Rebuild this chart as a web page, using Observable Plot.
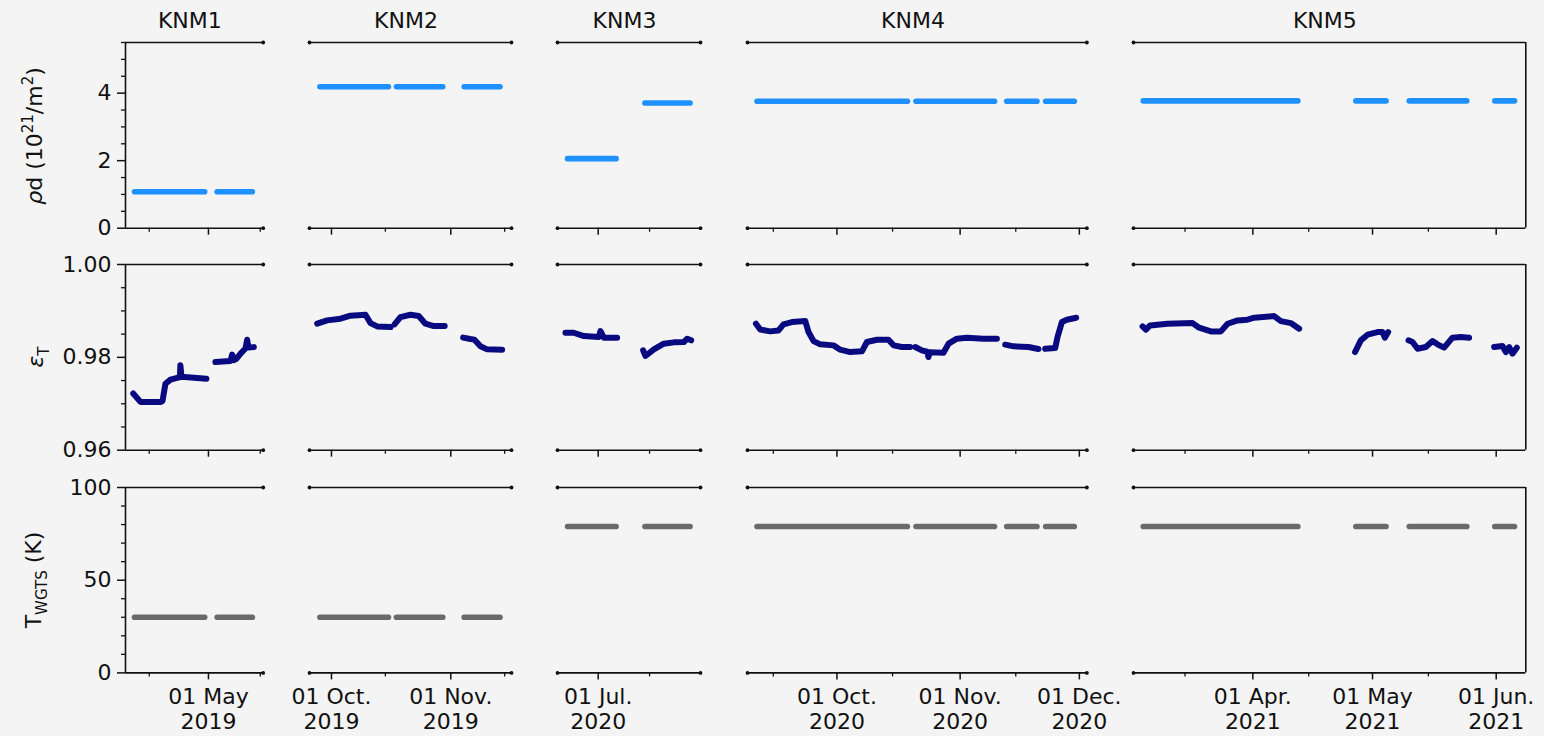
<!DOCTYPE html>
<html>
<head>
<meta charset="utf-8">
<script src="https://cdn.jsdelivr.net/npm/d3@7"></script>
<script src="https://cdn.jsdelivr.net/npm/@observablehq/plot@0.6"></script>
<style>
  html, body { margin: 0; padding: 0; background: #f4f4f4; }
  #figure { position: relative; width: 1544px; height: 736px; overflow: hidden;
            font-family: "DejaVu Sans", sans-serif; color: #111; }
  #figure svg { position: absolute; }
  .title { position: absolute; font-size: 22px; transform: translate(-50%, -50%); white-space: nowrap; }
  .ylabel { position: absolute; font-size: 22px; transform: translate(-50%, -50%) rotate(-90deg); white-space: nowrap; }
  .ylabel sup, .ylabel sub { font-size: 15px; }
</style>
</head>
<body>
<div id="figure"></div>
<script>
const parseTime = d3.utcParse("%Y-%m-%d %H:%M");
const parseDay = d3.utcParse("%Y-%m-%d");

// Measurement campaigns, one column each
const campaigns = ["KNM1", "KNM2", "KNM3", "KNM4", "KNM5"];

// Time window shown for each campaign (broken x axis)
const timeWindows = [
  ["2019-04-08 14:00", "2019-05-15 19:00"],
  ["2019-09-25 07:00", "2019-11-16 18:30"],
  ["2020-06-19 22:00", "2020-07-28 21:00"],
  ["2020-09-08 12:00", "2020-12-02 21:30"],
  ["2021-03-02 02:00", "2021-06-08 10:00"]
];

// Date ticks per campaign
const majorTicks = [
  ["2019-05-01"],
  ["2019-10-01", "2019-11-01"],
  ["2020-07-01"],
  ["2020-10-01", "2020-11-01", "2020-12-01"],
  ["2021-04-01", "2021-05-01", "2021-06-01"]
];
const majorTickLabels = [
  ["01 May\n2019"],
  ["01 Oct.\n2019", "01 Nov.\n2019"],
  ["01 Jul.\n2020"],
  ["01 Oct.\n2020", "01 Nov.\n2020", "01 Dec.\n2020"],
  ["01 Apr.\n2021", "01 May\n2021", "01 Jun.\n2021"]
];
const minorTicks = [
  ["2019-04-15", "2019-05-15"],
  ["2019-10-15", "2019-11-15"],
  ["2020-07-15"],
  ["2020-09-15", "2020-10-15", "2020-11-15"],
  ["2021-03-15", "2021-04-15", "2021-05-15"]
];

// Value ticks per row
const densityTicks = [0, 2, 4];
const densityMinorTicks = [0.5, 1, 1.5, 2.5, 3, 3.5, 4.5, 5, 5.5];
const purityTicks = [0.96, 0.98, 1.00];
const purityMinorTicks = [0.965, 0.97, 0.975, 0.985, 0.99, 0.995];
const temperatureTicks = [0, 50, 100];
const temperatureMinorTicks = [10, 20, 30, 40, 60, 70, 80, 90];

// Column density rho*d (1e21 / m^2): [campaign, start, end, value]
const densityRuns = [
  ["KNM1", "2019-04-11 00:30", "2019-04-29 23:30", 1.08],
  ["KNM1", "2019-05-03 08:30", "2019-05-12 20:30", 1.08],
  ["KNM2", "2019-09-28 00:00", "2019-10-15 19:00", 4.19],
  ["KNM2", "2019-10-17 21:00", "2019-10-29 22:00", 4.19],
  ["KNM2", "2019-11-04 11:30", "2019-11-13 19:00", 4.19],
  ["KNM3", "2020-06-22 16:00", "2020-07-05 21:00", 2.06],
  ["KNM3", "2020-07-13 17:45", "2020-07-26 01:00", 3.71],
  ["KNM4", "2020-09-10 21:30", "2020-10-18 17:30", 3.76],
  ["KNM4", "2020-10-20 21:30", "2020-11-09 15:30", 3.76],
  ["KNM4", "2020-11-12 17:30", "2020-11-20 08:00", 3.76],
  ["KNM4", "2020-11-22 12:30", "2020-11-29 17:30", 3.76],
  ["KNM5", "2021-03-04 12:30", "2021-04-12 06:30", 3.77],
  ["KNM5", "2021-04-26 19:30", "2021-05-04 09:00", 3.77],
  ["KNM5", "2021-05-10 05:00", "2021-05-24 15:00", 3.77],
  ["KNM5", "2021-05-31 15:30", "2021-06-05 14:00", 3.77]
];

// Source temperature T_WGTS (K): [campaign, start, end, value]
const temperatureRuns = [
  ["KNM1", "2019-04-11 00:30", "2019-04-29 23:30", 30],
  ["KNM1", "2019-05-03 08:30", "2019-05-12 20:30", 30],
  ["KNM2", "2019-09-28 00:00", "2019-10-15 19:00", 30],
  ["KNM2", "2019-10-17 21:00", "2019-10-29 22:00", 30],
  ["KNM2", "2019-11-04 11:30", "2019-11-13 19:00", 30],
  ["KNM3", "2020-06-22 16:00", "2020-07-05 21:00", 79],
  ["KNM3", "2020-07-13 17:45", "2020-07-26 01:00", 79],
  ["KNM4", "2020-09-10 21:30", "2020-10-18 17:30", 79],
  ["KNM4", "2020-10-20 21:30", "2020-11-09 15:30", 79],
  ["KNM4", "2020-11-12 17:30", "2020-11-20 08:00", 79],
  ["KNM4", "2020-11-22 12:30", "2020-11-29 17:30", 79],
  ["KNM5", "2021-03-04 12:30", "2021-04-12 06:30", 79],
  ["KNM5", "2021-04-26 19:30", "2021-05-04 09:00", 79],
  ["KNM5", "2021-05-10 05:00", "2021-05-24 15:00", 79],
  ["KNM5", "2021-05-31 15:30", "2021-06-05 14:00", 79]
];

// Tritium purity eps_T: [segment, time, value]
const purityKNM1 = [
  [1, "2019-04-10 16:00", 0.9722], [1, "2019-04-12 15:00", 0.9704], [1, "2019-04-18 01:00", 0.9704],
  [1, "2019-04-18 14:00", 0.9706], [1, "2019-04-19 09:00", 0.9743], [1, "2019-04-20 17:30", 0.9752],
  [1, "2019-04-22 13:00", 0.9756], [1, "2019-04-23 07:00", 0.9757], [1, "2019-04-23 10:00", 0.9783],
  [1, "2019-04-23 17:00", 0.9758], [1, "2019-04-30 11:00", 0.9754],
  [2, "2019-05-02 21:00", 0.9790], [2, "2019-05-06 23:00", 0.9792], [2, "2019-05-07 10:00", 0.9806],
  [2, "2019-05-07 21:00", 0.9794], [2, "2019-05-08 14:00", 0.9797], [2, "2019-05-09 16:00", 0.9808],
  [2, "2019-05-11 00:00", 0.9819], [2, "2019-05-11 11:00", 0.9838], [2, "2019-05-11 19:30", 0.9821],
  [2, "2019-05-13 06:00", 0.9822]
];
const purityKNM2 = [
  [1, "2019-09-27 07:00", 0.98725], [1, "2019-09-29 21:00", 0.98796], [1, "2019-10-03 08:00", 0.98832],
  [1, "2019-10-05 22:30", 0.98897], [1, "2019-10-09 20:00", 0.98918], [1, "2019-10-11 03:00", 0.98738],
  [1, "2019-10-12 21:00", 0.98667], [1, "2019-10-16 08:00", 0.98652],
  [2, "2019-10-17 09:00", 0.98710], [2, "2019-10-18 22:00", 0.98867], [2, "2019-10-21 12:30", 0.98918],
  [2, "2019-10-23 16:00", 0.98890], [2, "2019-10-25 10:00", 0.98725], [2, "2019-10-27 14:00", 0.98673],
  [2, "2019-10-30 10:00", 0.98673],
  [3, "2019-11-04 05:00", 0.98424], [3, "2019-11-06 02:30", 0.98394], [3, "2019-11-07 03:30", 0.98381],
  [3, "2019-11-08 17:00", 0.98237], [3, "2019-11-10 10:30", 0.98172], [3, "2019-11-14 08:00", 0.98165]
];
const purityKNM3 = [
  [1, "2020-06-22 02:00", 0.98531], [1, "2020-06-24 08:00", 0.98530], [1, "2020-06-27 02:00", 0.98459],
  [1, "2020-07-01 04:00", 0.98437], [1, "2020-07-01 15:00", 0.98566], [1, "2020-07-02 13:00", 0.98424],
  [1, "2020-07-06 04:00", 0.98424],
  [2, "2020-07-13 06:00", 0.98151], [2, "2020-07-13 21:00", 0.98029], [2, "2020-07-16 04:00", 0.98172],
  [2, "2020-07-18 21:00", 0.98294], [2, "2020-07-21 14:00", 0.98323], [2, "2020-07-24 08:00", 0.98330],
  [2, "2020-07-25 06:00", 0.98402], [2, "2020-07-26 08:00", 0.98366]
];
const purityKNM4 = [
  [1, "2020-09-10 15:00", 0.98725], [1, "2020-09-11 17:00", 0.98600], [1, "2020-09-14 05:00", 0.98559],
  [1, "2020-09-16 07:30", 0.98580], [1, "2020-09-17 13:30", 0.98710], [1, "2020-09-19 16:00", 0.98760],
  [1, "2020-09-23 01:00", 0.98781], [1, "2020-09-23 20:30", 0.98545], [1, "2020-09-25 03:00", 0.98350],
  [1, "2020-09-26 19:00", 0.98280], [1, "2020-09-30 03:30", 0.98258], [1, "2020-10-01 20:00", 0.98165],
  [1, "2020-10-04 08:00", 0.98114], [1, "2020-10-07 07:00", 0.98130], [1, "2020-10-08 13:00", 0.98330],
  [1, "2020-10-11 01:30", 0.98380], [1, "2020-10-13 23:30", 0.98380], [1, "2020-10-15 06:00", 0.98258],
  [1, "2020-10-17 08:30", 0.98222], [1, "2020-10-19 10:30", 0.98222],
  [2, "2020-10-20 17:00", 0.98222], [2, "2020-10-22 09:00", 0.98150], [2, "2020-10-23 17:00", 0.98120],
  [2, "2020-10-24 01:00", 0.98007], [2, "2020-10-24 08:00", 0.98110], [2, "2020-10-27 19:30", 0.98101],
  [2, "2020-10-29 02:00", 0.98294], [2, "2020-10-31 04:30", 0.98402], [2, "2020-11-02 17:00", 0.98424],
  [2, "2020-11-06 21:00", 0.98402], [2, "2020-11-10 06:00", 0.98402],
  [3, "2020-11-12 08:00", 0.98273], [3, "2020-11-14 10:30", 0.98237], [3, "2020-11-18 05:00", 0.98222],
  [3, "2020-11-20 17:00", 0.98179],
  [4, "2020-11-22 09:30", 0.98186], [4, "2020-11-24 22:00", 0.98200], [4, "2020-11-25 12:00", 0.98437],
  [4, "2020-11-26 14:30", 0.98760], [4, "2020-11-27 20:30", 0.98810], [4, "2020-11-30 05:00", 0.98853]
];
const purityKNM5 = [
  [1, "2021-03-04 08:30", 0.98667], [1, "2021-03-05 04:30", 0.98595], [1, "2021-03-06 06:00", 0.98688],
  [1, "2021-03-10 15:00", 0.98724], [1, "2021-03-16 21:30", 0.98738], [1, "2021-03-18 13:00", 0.98638],
  [1, "2021-03-21 11:00", 0.98559], [1, "2021-03-23 23:30", 0.98559], [1, "2021-03-25 16:00", 0.98724],
  [1, "2021-03-28 04:00", 0.98796], [1, "2021-03-30 16:00", 0.98810], [1, "2021-04-01 08:00", 0.98853],
  [1, "2021-04-06 08:00", 0.98889], [1, "2021-04-08 00:30", 0.98781], [1, "2021-04-10 12:30", 0.98738],
  [1, "2021-04-12 14:30", 0.98617],
  [2, "2021-04-26 15:00", 0.98114], [2, "2021-04-28 01:30", 0.98366], [2, "2021-04-29 18:00", 0.98488],
  [2, "2021-05-02 06:00", 0.98545], [2, "2021-05-03 12:00", 0.98545], [2, "2021-05-04 02:00", 0.98424],
  [2, "2021-05-04 22:00", 0.98545],
  [3, "2021-05-10 00:30", 0.98366], [3, "2021-05-11 00:30", 0.98330], [3, "2021-05-12 07:00", 0.98186],
  [3, "2021-05-14 08:30", 0.98222], [3, "2021-05-16 01:00", 0.98350], [3, "2021-05-17 07:00", 0.98280],
  [3, "2021-05-18 22:30", 0.98208], [3, "2021-05-21 01:00", 0.98424], [3, "2021-05-23 03:00", 0.98437],
  [3, "2021-05-25 05:00", 0.98424],
  [4, "2021-05-31 11:30", 0.98222], [4, "2021-06-02 14:00", 0.98244], [4, "2021-06-03 10:00", 0.98114],
  [4, "2021-06-04 06:00", 0.98222], [4, "2021-06-05 02:00", 0.98080], [4, "2021-06-06 04:00", 0.98208]
];
const purityByCampaign = [purityKNM1, purityKNM2, purityKNM3, purityKNM4, purityKNM5];

// Panel grid (pixel frame of each subplot)
const colLeft = [125, 309, 557, 747.3, 1132.7];
const colRight = [262.7, 511, 700, 1086.7, 1525];
const rowTop = [42, 264.3, 487.3];
const rowBottom = [227.7, 450, 672.7];

const ink = "#111";
const tickLabel = new Map(
  majorTicks.flat().map((d, i) => [+parseDay(d), majorTickLabels.flat()[i]])
);

function runMarks(runs, campaign, color) {
  const rows = runs.filter(d => d[0] === campaign).flatMap((d, i) => [
    {run: i, t: parseTime(d[1]), v: d[3]},
    {run: i, t: parseTime(d[2]), v: d[3]}
  ]);
  return Plot.line(rows, {x: "t", y: "v", z: "run", stroke: color, strokeWidth: 5.6,
                          strokeLinecap: "round", strokeLinejoin: "round"});
}

const rowSpecs = [
  {
    domain: [0, 5.5], major: densityTicks, minor: densityMinorTicks, format: d => String(d),
    data: c => runMarks(densityRuns, campaigns[c], "#1e90ff")
  },
  {
    domain: [0.96, 1.0], major: purityTicks, minor: purityMinorTicks, format: d3.format(".2f"),
    data: c => Plot.line(purityByCampaign[c].map(d => ({seg: d[0], t: parseTime(d[1]), v: d[2]})),
      {x: "t", y: "v", z: "seg", stroke: "#0a0a80", strokeWidth: 6,
       strokeLinecap: "round", strokeLinejoin: "round"})
  },
  {
    domain: [0, 100], major: temperatureTicks, minor: temperatureMinorTicks, format: d => String(d),
    data: c => runMarks(temperatureRuns, campaigns[c], "#6a6a6a")
  }
];

function panel(r, c) {
  const first = c === 0, last = c === campaigns.length - 1, bottomRow = r === rowSpecs.length - 1;
  const spec = rowSpecs[r];
  const mL = first ? 110 : 8, mR = 8, mT = 8, mB = bottomRow ? 80 : 14;
  const w = colRight[c] - colLeft[c], h = rowBottom[r] - rowTop[r];
  const [t0, t1] = timeWindows[c].map(parseTime);
  const [y0, y1] = spec.domain;

  const caps = [];
  for (const y of [y0, y1]) {
    if (!first) caps.push({t: t0, y});
    if (!last) caps.push({t: t1, y});
  }

  const marks = [
    spec.data(c),
    Plot.ruleY([y0, y1], {stroke: ink, strokeWidth: 1.6}),
    Plot.dot(caps, {x: "t", y: "y", r: 1.9, fill: ink}),
    Plot.axisX(minorTicks[c].map(parseDay), {anchor: "bottom", tickSize: 4, strokeWidth: 1.3,
      tickFormat: () => "", label: null}),
    Plot.axisX(majorTicks[c].map(parseDay), {anchor: "bottom", tickSize: 7, strokeWidth: 1.5,
      tickPadding: 6, lineHeight: 1.15, fontSize: 22, label: null,
      tickFormat: bottomRow ? (d => tickLabel.get(+d)) : (() => "")})
  ];
  if (first) {
    marks.push(Plot.ruleX([t0], {stroke: ink, strokeWidth: 1.6}));
    marks.push(Plot.axisY(spec.minor, {anchor: "left", tickSize: 4, strokeWidth: 1.3,
      tickFormat: () => "", label: null}));
    marks.push(Plot.axisY(spec.major, {anchor: "left", tickSize: 8, strokeWidth: 1.5,
      tickPadding: 6, fontSize: 22, label: null, tickFormat: spec.format}));
  }
  if (last) marks.push(Plot.ruleX([t1], {stroke: ink, strokeWidth: 1.6}));

  const svg = Plot.plot({
    width: w + mL + mR, height: h + mT + mB,
    marginLeft: mL, marginRight: mR, marginTop: mT, marginBottom: mB,
    x: {type: "utc", domain: [t0, t1], label: null},
    y: {domain: [y0, y1], label: null, axis: first ? undefined : null},
    style: {background: "transparent", fontFamily: "DejaVu Sans", fontSize: "22px",
            color: ink, overflow: "visible"},
    marks
  });
  svg.style.left = (colLeft[c] - mL) + "px";
  svg.style.top = (rowTop[r] - mT) + "px";
  return svg;
}

const figure = document.getElementById("figure");
for (let r = 0; r < rowSpecs.length; ++r) {
  for (let c = 0; c < campaigns.length; ++c) figure.appendChild(panel(r, c));
}

campaigns.forEach((name, c) => {
  const t = document.createElement("div");
  t.className = "title";
  t.textContent = name;
  t.style.left = ((colLeft[c] + colRight[c]) / 2 - 4) + "px";
  t.style.top = "20px";
  figure.appendChild(t);
});

const yLabels = [
  {html: "<i>ρ</i>d (10<sup>21</sup>/m<sup>2</sup>)", x: 33, y: 136},
  {html: "<i>ε</i><sub>T</sub>", x: 38, y: 357},
  {html: "T<sub>WGTS</sub> (K)", x: 36, y: 580}
];
for (const l of yLabels) {
  const d = document.createElement("div");
  d.className = "ylabel";
  d.innerHTML = l.html;
  d.style.left = l.x + "px";
  d.style.top = l.y + "px";
  figure.appendChild(d);
}
</script>
</body>
</html>
